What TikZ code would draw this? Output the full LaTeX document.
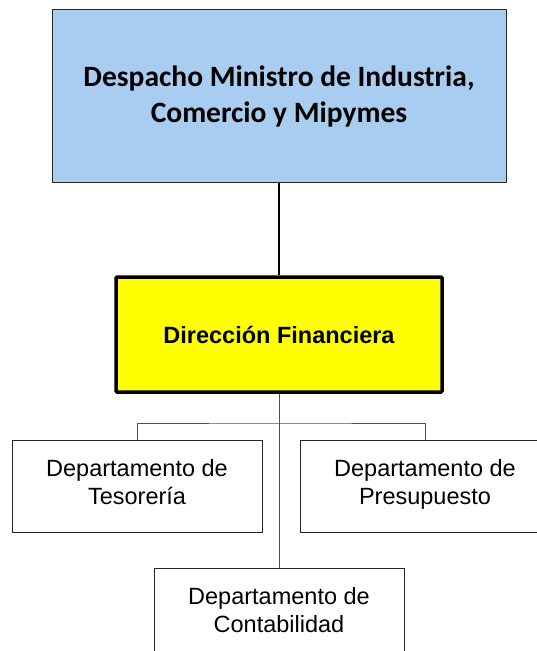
\documentclass[tikz,border=0pt]{standalone}
\usepackage{fontspec}
\setmainfont{Liberation Sans}
\newfontfamily\carlito{Carlito}
\usetikzlibrary{positioning, calc}
\definecolor{orgblue}{HTML}{A9CDF0}
\definecolor{orgyellow}{HTML}{FFFF00}
\definecolor{orggray}{HTML}{505050}

\begin{document}
\begin{tikzpicture}[
  x=1pt, y=-1pt,
  every node/.style={font=\fontsize{23.5}{27.5}\selectfont},
  dept/.style={rectangle, draw=black!85, line width=1pt, fill=white, minimum width=250pt, minimum height=92pt, align=center, inner sep=0pt,
    execute at begin node=\strut, execute at end node=\strut},
  link/.style={draw=orggray, line width=1pt},
]
\useasboundingbox (0,0) rectangle (537,651);

% niveles superiores
\node[rectangle, draw=black!85, line width=1pt, fill=orgblue, minimum width=454pt, minimum height=173pt, align=center, inner sep=0pt,
  font=\carlito\bfseries\fontsize{29.5}{36}\selectfont] (desp) at (279,96)
  {Despacho Ministro de Industria,\\Comercio y Mipymes};
\node[rectangle, draw=black, line width=3.5pt, rounded corners=1pt, fill=orgyellow, minimum width=326pt, minimum height=115pt, inner sep=0pt,
  font=\bfseries\fontsize{23.5}{27.5}\selectfont] (dirf) at (279,334.5) {Dirección Financiera};

% departamentos
\node[dept] (teso) at (137,486) {Departamento de\\Tesorería};
\node[dept] (pres) at (425,486) {Departamento de\\Presupuesto};
\node[dept] (cont) at (279,614) {Departamento de\\Contabilidad};

\coordinate (split) at (279,423);

\draw[line width=2pt] (desp) -- (dirf);
\draw[link] (dirf.south) -- (cont.north);
\draw[link] (teso.north) |- (split) -| (pres.north);
\end{tikzpicture}
\end{document}
